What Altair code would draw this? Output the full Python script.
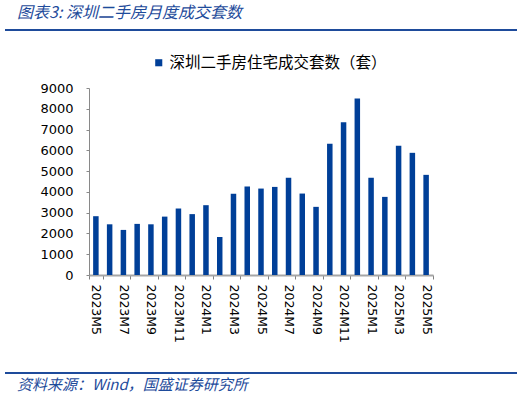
import altair as alt
import pandas as pd

months = ["2023M5", "2023M6", "2023M7", "2023M8", "2023M9", "2023M10", "2023M11", "2023M12",
          "2024M1", "2024M2", "2024M3", "2024M4", "2024M5", "2024M6", "2024M7", "2024M8",
          "2024M9", "2024M10", "2024M11", "2024M12", "2025M1", "2025M2", "2025M3", "2025M4",
          "2025M5"]
values = [2830, 2440, 2170, 2460, 2440, 2810, 3200, 2930, 3360, 1830, 3910, 4260, 4160,
          4240, 4680, 3920, 3280, 6320, 7350, 8500, 4680, 3760, 6220, 5880, 4820]
tick_labels = ["2023M5", "2023M7", "2023M9", "2023M11", "2024M1", "2024M3", "2024M5",
               "2024M7", "2024M9", "2024M11", "2025M1", "2025M3", "2025M5"]
y_ticks = [0, 1000, 2000, 3000, 4000, 5000, 6000, 7000, 8000, 9000]
series_name = "深圳二手房住宅成交套数（套）"
title_text = "图表3:  深圳二手房月度成交套数"
source_text = "资料来源：Wind，国盛证券研究所"

BAR = "#003F98"
BLUE = "#1E4B9B"
CJK = "Noto Sans CJK SC"
LAT = "DejaVu Sans"

df = pd.DataFrame({"month": months, "value": values, "series": [series_name] * len(months)})

bars = alt.Chart(df).mark_bar(size=5.5).encode(
    x=alt.X("month:N", sort=months,
            scale=alt.Scale(paddingInner=0, paddingOuter=0),
            axis=alt.Axis(values=tick_labels, tickBand="extent", labelAngle=90,
                          labelFont=LAT, labelFontSize=12.5, labelColor="#000000",
                          domainColor="#A6A6A6", domainWidth=2, tickColor="#808080",
                          tickSize=4, labelPadding=5, title=None)),
    y=alt.Y("value:Q", scale=alt.Scale(domain=[0, 9000], nice=False),
            axis=alt.Axis(values=y_ticks, format="d", labelFont=LAT, labelFontSize=13,
                          labelColor="#000000", domainColor="#898989", tickColor="#898989",
                          tickSize=3, labelPadding=13, grid=False, title=None)),
    color=alt.Color("series:N", scale=alt.Scale(range=[BAR]),
                    legend=alt.Legend(title=None, orient="none", legendX=62, legendY=-33,
                                      symbolType="square", symbolSize=50, symbolStrokeWidth=0,
                                      labelFont=CJK, labelFontSize=15.5, labelColor="#000000",
                                      labelOffset=3, labelLimit=0, padding=0)),
)

title = alt.Chart(pd.DataFrame({"t": [title_text]})).mark_text(
    align="left", baseline="middle", font=CJK, fontSize=16, fontStyle="italic", color=BLUE
).encode(text="t:N", x=alt.value(-72), y=alt.value(-75))

source = alt.Chart(pd.DataFrame({"t": [source_text]})).mark_text(
    align="left", baseline="middle", font=CJK, fontSize=15, fontStyle="italic", color=BLUE
).encode(text="t:N", x=alt.value(-72), y=alt.value(297))

line_df = pd.DataFrame({"k": ["top", "bottom"], "yy": [-58, 285]})
lines = alt.Chart(line_df).mark_rule(color=BLUE, strokeWidth=2).encode(
    x=alt.value(-84), x2=alt.value(428), y=alt.Y("yy:Q", scale=None)
)

chart = alt.layer(bars, title, source, lines).properties(
    width=344, height=187,
    autosize=alt.AutoSizeParams(type="none"),
    padding={"left": 89, "top": 88, "right": 93, "bottom": 123},
).configure_view(stroke=None).resolve_scale(y="independent")

chart.save("out.html", embed_options={"renderer": "svg", "actions": False})
